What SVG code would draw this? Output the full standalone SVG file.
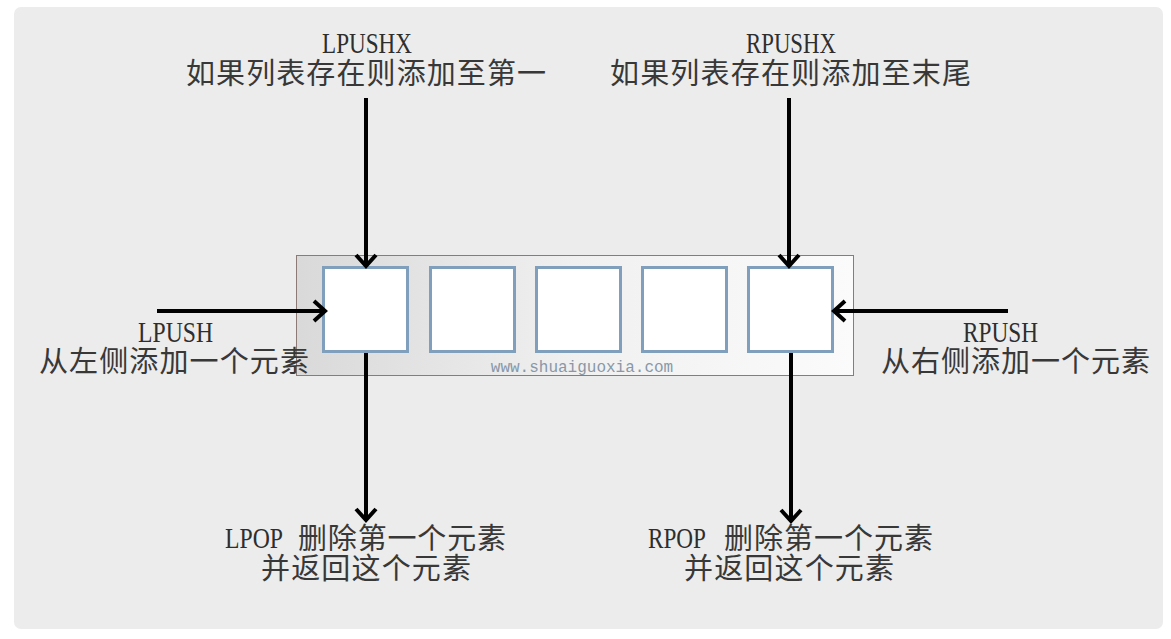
<svg xmlns="http://www.w3.org/2000/svg" width="1171" height="639" viewBox="0 0 1171 639">
<style>
.lat{font-family:"Liberation Serif",serif;font-size:29px;fill:#2e2e2e}
.cjk{font-family:"Noto Sans CJK SC",sans-serif;font-size:29px;fill:#383838}
.cell{fill:#ffffff;stroke:#7f9fbd;stroke-width:3}
.conn{stroke:#000;stroke-width:4;fill:none}
.wm{font-family:"Liberation Mono",monospace;font-size:16px;fill:#8898a8}
</style>
<defs>
<linearGradient id="gbar" x1="0" y1="0" x2="1" y2="0">
<stop offset="0" stop-color="#d9d9d9"/>
<stop offset="0.5" stop-color="#f0f0f0"/>
<stop offset="1" stop-color="#fbfbfb"/>
</linearGradient>
<marker id="ah" markerUnits="userSpaceOnUse" markerWidth="30" markerHeight="30" viewBox="-15 -15 30 30" refX="0" refY="0" orient="auto">
<path d="M -11 -10 L 0 0 L -11 10" fill="none" stroke="#000" stroke-width="4" stroke-linejoin="miter"/>
</marker>
</defs>
<rect x="0" y="0" width="1171" height="639" fill="#ffffff"/>
<rect x="14" y="7" width="1149" height="622" rx="7" fill="#ececec"/>

<g id="list">
<rect x="296.5" y="255.5" width="557" height="120" fill="url(#gbar)" stroke="#8c7b75" stroke-width="1"/>
<text class="wm" x="582" y="372" text-anchor="middle">www.shuaiguoxia.com</text>
</g>
<g id="cell1"><rect class="cell" x="323.5" y="267.5" width="84" height="84"/></g>
<g id="cell2"><rect class="cell" x="430.5" y="267.5" width="84" height="84"/></g>
<g id="cell3"><rect class="cell" x="536.5" y="267.5" width="84" height="84"/></g>
<g id="cell4"><rect class="cell" x="642.5" y="267.5" width="84" height="84"/></g>
<g id="cell5"><rect class="cell" x="748.5" y="267.5" width="84" height="84"/></g>

<g id="connectors">
<line class="conn" x1="366" y1="98" x2="366" y2="266" marker-end="url(#ah)"/>
<line class="conn" x1="789" y1="98" x2="789" y2="266" marker-end="url(#ah)"/>
<line class="conn" x1="157" y1="311" x2="325" y2="311" marker-end="url(#ah)"/>
<line class="conn" x1="1008" y1="311" x2="834" y2="311" marker-end="url(#ah)"/>
<line class="conn" x1="366" y1="353" x2="366" y2="520" marker-end="url(#ah)"/>
<line class="conn" x1="791" y1="353" x2="791" y2="521" marker-end="url(#ah)"/>
</g>

<g id="lpushx">
<text class="lat" x="322" y="53" textLength="90" lengthAdjust="spacingAndGlyphs">LPUSHX</text>
<text class="cjk" x="186" y="84" textLength="360" lengthAdjust="spacing">如果列表存在则添加至第一</text>
</g>
<g id="rpushx">
<text class="lat" x="746" y="53" textLength="90" lengthAdjust="spacingAndGlyphs">RPUSHX</text>
<text class="cjk" x="610" y="84" textLength="361" lengthAdjust="spacing">如果列表存在则添加至末尾</text>
</g>
<g id="lpush">
<text class="lat" x="138" y="342" textLength="75" lengthAdjust="spacingAndGlyphs">LPUSH</text>
<text class="cjk" x="39" y="372" textLength="270" lengthAdjust="spacing">从左侧添加一个元素</text>
</g>
<g id="rpush">
<text class="lat" x="963" y="342" textLength="75" lengthAdjust="spacingAndGlyphs">RPUSH</text>
<text class="cjk" x="881" y="372" textLength="269" lengthAdjust="spacing">从右侧添加一个元素</text>
</g>
<g id="lpop">
<text class="lat" x="225" y="548" textLength="58" lengthAdjust="spacingAndGlyphs">LPOP</text>
<text class="cjk" x="298" y="549" textLength="208" lengthAdjust="spacing">删除第一个元素</text>
<text class="cjk" x="261" y="579" textLength="210" lengthAdjust="spacing">并返回这个元素</text>
</g>
<g id="rpop">
<text class="lat" x="648" y="548" textLength="58" lengthAdjust="spacingAndGlyphs">RPOP</text>
<text class="cjk" x="724" y="549" textLength="209" lengthAdjust="spacing">删除第一个元素</text>
<text class="cjk" x="684" y="579" textLength="210" lengthAdjust="spacing">并返回这个元素</text>
</g>
</svg>
